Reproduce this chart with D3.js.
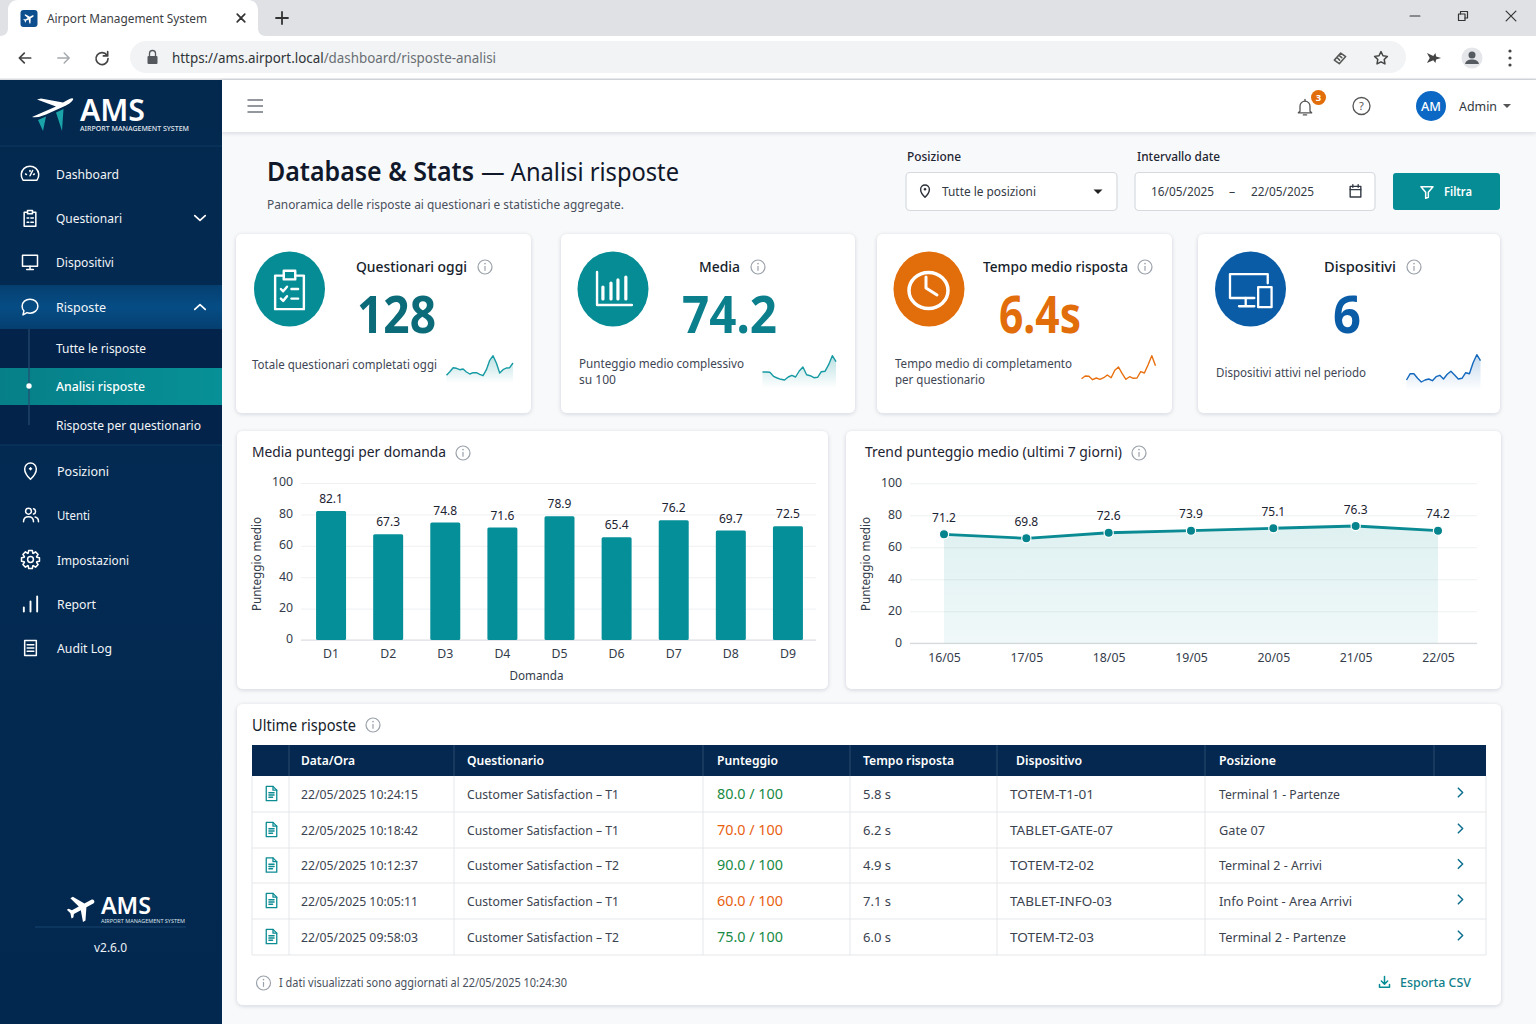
<!DOCTYPE html>
<html lang="it"><head><meta charset="utf-8"><title>Airport Management System</title>
<script src="https://cdn.jsdelivr.net/npm/d3@7/dist/d3.min.js"></script>
<style>html,body{margin:0;padding:0;background:#f8f9fb;overflow:hidden}svg{display:block}text{font-family:"Noto Sans","Open Sans",sans-serif}</style>
</head><body><svg id="c" width="1536" height="1024" viewBox="0 0 1536 1024"></svg>
<script>
// ---- data ----
const questions=["D1","D2","D3","D4","D5","D6","D7","D8","D9"];
const questionScores=[82.1,67.3,74.8,71.6,78.9,65.4,76.2,69.7,72.5];
const yTicks=[0,20,40,60,80,100];
const days=["16/05","17/05","18/05","19/05","20/05","21/05","22/05"];
// heights at which the markers sit in the picture, which differ from their printed labels
const trendPlotted=[68.1,65.6,69.1,70.4,71.9,73.3,70.4];
const trendPrinted=["71.2","69.8","72.6","73.9","75.1","76.3","74.2"];
const sparkQuestionari=[7.7,11.3,15.3,14.7,13.3,14,11,9,10.3,10.3,8.7,7.3,13.3,22.7,27.3,20,10,13.3,15,15.3,20];
const sparkMedia=[16,16,15.7,11.7,10,8.7,8,11,12.7,11,17,21,13.3,12.3,10.3,10.7,16.3,16.7,23.3,32.3,26.3];
const sparkTempo=[9.3,12,11.7,8.3,10,8.7,10.3,13,10.3,17.7,21,14.3,8.7,11.3,9.7,10,16.3,15,23.3,32.3,22.3];
const sparkDispositivi=[10,16.3,16.3,11.7,8,10,11,9.3,13.3,14.7,11,15.7,18.7,15,11,11.7,17.3,16.3,27.3,35.3,29.3];
const tableHeaders=["Data/Ora","Questionario","Punteggio","Tempo risposta","Dispositivo","Posizione"];
const rowTimes=["22/05/2025 10:24:15","22/05/2025 10:18:42","22/05/2025 10:12:37","22/05/2025 10:05:11","22/05/2025 09:58:03"];
const rowSurveys=["Customer Satisfaction – T1","Customer Satisfaction – T1","Customer Satisfaction – T2","Customer Satisfaction – T1","Customer Satisfaction – T2"];
const rowScores=[80,70,90,60,75];
const rowDurations=["5.8 s","6.2 s","4.9 s","7.1 s","6.0 s"];
const rowDevices=["TOTEM-T1-01","TABLET-GATE-07","TOTEM-T2-02","TABLET-INFO-03","TOTEM-T2-03"];
const rowPlaces=["Terminal 1 - Partenze","Gate 07","Terminal 2 - Arrivi","Info Point - Area Arrivi","Terminal 2 - Partenze"];

const TEAL="#068c95",NAVY="#03274f",ORANGE="#e26d0b",BLUE="#0b5ca6",INK="#1d2433",GREY="#3e4654";
const svg=d3.select("#c");
const defs=svg.append("defs");
function grad(id,stops,vert=true){const g=defs.append("linearGradient").attr("id",id).attr("x1",0).attr("y1",0).attr("x2",vert?0:1).attr("y2",vert?1:0);
 stops.forEach(s=>g.append("stop").attr("offset",s[0]).attr("stop-color",s[1]).attr("stop-opacity",s[2]??1));}
grad("side",[[0,"#03294f"],[.5,"#032a52"],[1,"#03284f"]]);
grad("band",[[0,"#053f70"],[.5,"#064d85"],[1,"#053f70"]]);
grad("active",[[0,"#067f88"],[1,"#079097"]],false);
grad("area",[[0,"#0a8f96",.13],[1,"#0a8f96",.06]]);
grad("sT",[[0,"#0a8f96",.28],[1,"#0a8f96",0]]);
grad("sB",[[0,"#0b62b5",.25],[1,"#0b62b5",0]]);
const sh=defs.append("filter").attr("id","sh").attr("x","-5%").attr("y","-5%").attr("width","110%").attr("height","115%");
sh.append("feDropShadow").attr("dx",0).attr("dy",1).attr("stdDeviation",2.2).attr("flood-color","#1d2b3a").attr("flood-opacity",.16);

function T(p,x,y,s,o={}){const t=p.append("text").attr("x",x).attr("y",y).text(s)
 .attr("font-size",o.size||13).attr("fill",o.fill||GREY).attr("font-weight",o.weight||400).attr("text-anchor",o.anchor||"start");
 if(o.w)t.attr("textLength",o.w).attr("lengthAdjust","spacingAndGlyphs");return t;}
function R(p,x,y,w,h,fill,o={}){const r=p.append("rect").attr("x",x).attr("y",y).attr("width",w).attr("height",h).attr("fill",fill);
 if(o.r)r.attr("rx",o.r);if(o.stroke)r.attr("stroke",o.stroke).attr("stroke-width",o.sw||1);if(o.filter)r.attr("filter",o.filter);return r;}
// stroke icon on a 24-unit box centred on (x,y)
function I(p,x,y,size,color,paths,o={}){const k=size/24;const g=p.append("g").attr("transform",`translate(${x-size/2},${y-size/2}) scale(${k})`)
 .attr("fill",o.fill||"none").attr("stroke",o.fill?"none":color).attr("stroke-width",(o.sw||1.6)/k).attr("stroke-linecap","round").attr("stroke-linejoin","round");
 [].concat(paths).forEach(d=>g.append("path").attr("d",d));return g;}
const PLANE="M21 16v-2l-8-5V3.5c0-.83-.67-1.5-1.5-1.5S10 2.67 10 3.5V9l-8 5v2l8-2.5V19l-2 1.5V22l3.5-1 3.5 1v-1.5L13 19v-5.5l8 2.5z";
const ic={
 gauge:["M4 19a10 10 0 1 1 16 0z","M12 14l3-6","M7 12l1 .6","M12 8v1","M17 12l-1 .6"],
 clip:["M9 5H5v17h14V5h-4","M9 3h6v4H9z","M8.500 12h2M13 12h3M8.500 17h2M13 17h3"],
 monitor:["M3 4h18v13H3z","M12 17v3M8 21h8"],
 chat:"M12 3c5 0 9 3.4 9 8s-4 8-9 8c-1.2 0-2.4-.2-3.4-.6L4 21l1-4.600C3.700 15 3 13.100 3 11c0-4.600 4-8 9-8z",
 pin:["M12 22s7-6.800 7-12.500a7 7 0 1 0-14 0C5 15.200 12 22 12 22z","M12 8v2.500","M10.800 9.200h2.400"],
 users:["M9 4a3.500 3.500 0 1 1 0 7 3.500 3.500 0 0 1 0-7z","M3 20c0-4 2.500-6 6-6s6 2 6 6","M15 4.500a3.300 3.300 0 0 1 0 6.400","M17 14.500c2.500.6 4 2.500 4 5.500"],
 audit:["M5 3h14v18H5z","M8 8h8M8 12h8M8 16h8"],
 bell:["M6 17V11a6 6 0 0 1 12 0v6l2 2H4z","M10 21.500h4","M12 3v2"],
 cal:["M4 5h16v16H4z","M4 10h16M8 2.500v4M16 2.500v4"],
 funnel:"M3 4h18l-7 8.500V20l-4 1.500v-9z",
 doc:["M5 2.500h9l5 5v14H5z","M14 2.500v5h5","M8.500 11h7M8.500 14h7M8.500 17h5"],
 dl:["M12 3v12M7 10.500l5 5 5-5","M4 16v4.500h16V16"],
 arrowL:"M20 12H5M11 5l-7 7 7 7",arrowR:"M4 12h15M13 5l7 7-7 7",
 reload:["M19 8a8.500 8.500 0 1 0 1.500 5","M20 3v6h-6"],
 star:"M12 3l2.800 5.800 6.200.9-4.500 4.400 1.100 6.300L12 17.400l-5.600 3 1.100-6.300L3 9.700l6.200-.9z",
 tag:["M4 15l9-10 7 5-9 10z","M8.500 12l3 3M11.500 9l3 2.500"],
 puzzle:"M2 5l9 4 3-4 1 5 7 2-7 2-1 5-3-4-9 4 4-7z",
};
function gearPath(){const n=8,pts=[];for(let i=0;i<n;i++){const a=i/n*2*Math.PI;
 pts.push([12+8*Math.cos(a-.36),12+8*Math.sin(a-.36)],[12+11*Math.cos(a-.2),12+11*Math.sin(a-.2)],[12+11*Math.cos(a+.2),12+11*Math.sin(a+.2)],[12+8*Math.cos(a+.36),12+8*Math.sin(a+.36)]);}
 return d3.line()(pts)+"Z";}
function info(p,x,y,r=7){p.append("circle").attr("cx",x).attr("cy",y).attr("r",r).attr("fill","none").attr("stroke","#9aa1aa").attr("stroke-width",1.2);
 p.append("line").attr("x1",x).attr("x2",x).attr("y1",y-1).attr("y2",y+r*.55).attr("stroke","#9aa1aa").attr("stroke-width",1.2);
 p.append("circle").attr("cx",x).attr("cy",y-r*.48).attr("r",.8).attr("fill","#9aa1aa");}

// ---- browser chrome ----
const bg=svg.append("g");
R(bg,0,0,1536,1024,"#f8f9fb");
R(bg,0,0,1536,36,"#dfe1e5");
R(bg,0,36,1536,44,"#ffffff");
bg.append("path").attr("d","M0 36C6 36 8 32 8 28V10C8 4 12 0 18 0H248C254 0 258 4 258 10V28C258 32 260 36 266 36Z").attr("fill","#fff");
R(bg,20.5,10,17,17,"#0d4f8e",{r:3});
I(bg,29,18.500,13,"#fff",PLANE,{fill:"#fff"}).select("path").attr("transform","rotate(60 12 12)");
T(bg,47,23,"Airport Management System",{size:12.6,fill:"#3c4043",w:160});
I(bg,241,18,13,"#333",["M5 5l14 14M19 5L5 19"],{sw:1.7});
I(bg,282,18,16,"#333",["M12 3v18M3 12h18"],{sw:1.8});
I(bg,1415,16,13,"#333",["M3 12h18"],{sw:1.2});
I(bg,1463,16,12,"#333",["M3 8h13v13H3z","M7 8V3h14v13h-5"],{sw:1.2});
I(bg,1511,16,13,"#333",["M3 3l18 18M21 3L3 21"],{sw:1.2});
I(bg,25,58,17,"#444",ic.arrowL,{sw:1.7});
I(bg,63.500,58,17,"#a6a9ad",ic.arrowR,{sw:1.5});
I(bg,102,58,17,"#444",ic.reload,{sw:1.7});
R(bg,130,41,1276,32,"#f1f3f4",{r:16});
R(bg,147.500,56,10,8,"#55595e",{r:1});
bg.append("path").attr("d","M149.500 56v-2.500a3 3 0 0 1 6 0V56").attr("fill","none").attr("stroke","#55595e").attr("stroke-width",1.3);
const url=T(bg,172,63,"",{size:14,w:324});
url.append("tspan").attr("fill","#2f3338").text("https://ams.airport.local");
url.append("tspan").attr("fill","#6a6f75").text("/dashboard/risposte-analisi");
I(bg,1340,58,17,"#555",ic.tag,{sw:1.5});
I(bg,1381,58,17,"#444",ic.star,{sw:1.5});
I(bg,1434,58,17,"#444",ic.puzzle,{fill:"#444"});
bg.append("circle").attr("cx",1472).attr("cy",58).attr("r",10.500).attr("fill","#e4e6e9");
bg.append("circle").attr("cx",1472).attr("cy",55).attr("r",3.500).attr("fill","#555a60");
bg.append("path").attr("d","M1465 64c1-3.500 3.500-4.500 7-4.500s6 1 7 4.500z").attr("fill","#555a60");
[51,58,65].forEach(y=>bg.append("circle").attr("cx",1510).attr("cy",y).attr("r",1.6).attr("fill","#444"));
R(bg,0,78.500,1536,1.500,"#d9dbde");

// ---- sidebar ----
const side=svg.append("g");
R(side,0,80,222,944,"url(#side)");
side.append("line").attr("x1",0).attr("x2",222).attr("y1",146).attr("y2",146).attr("stroke","#0e3a63");
const logo=side.append("g");
logo.append("path").attr("d","M38 120L46 116.500L43 131ZM56 112.500L63.500 109L62 131Z").attr("fill","#1aa3a8");
logo.append("path").attr("d","M32 117L56 106.500L37 99.500L41 98.500L63 102.500L69.500 99C72 97.500 74.500 98 72.500 100.500C71 102.500 68 104.500 66 105.500L46 114.500Q38 118 32 117Z").attr("fill","#fff");
T(logo,80,121,"AMS",{size:31,weight:600,fill:"#fff",w:65});
T(logo,80,131,"AIRPORT MANAGEMENT SYSTEM",{size:7,weight:500,fill:"#e2e8ee",w:109});
R(side,0,285,222,44,"url(#band)");
R(side,0,329,222,116,"#03234a");
R(side,0,368,222,37,"url(#active)");
side.append("line").attr("x1",29).attr("x2",29).attr("y1",329).attr("y2",425).attr("stroke","#274b71").attr("stroke-width",1.2);
side.append("circle").attr("cx",29).attr("cy",386).attr("r",2.700).attr("fill","#fff");
side.append("line").attr("x1",0).attr("x2",222).attr("y1",445).attr("y2",445).attr("stroke","#0e3a63");
const W={fill:"#f2f5f8",size:12.6};
[["Dashboard",56,174,63],["Questionari",56,218,66],["Dispositivi",56,262,58],["Risposte",56,307,50],["Tutte le risposte",56,348,90],["Risposte per questionario",56,425,145],["Posizioni",57,471,52],["Utenti",57,515,33],["Impostazioni",57,560,72],["Report",57,604,39],["Audit Log",57,648,55]]
 .forEach(d=>T(side,d[1],d[2]+4.500,d[0],{...W,w:d[3]}));
T(side,56,390.500,"Analisi risposte",{size:12.6,fill:"#fff",weight:500,w:89});
const wi={sw:1.5};
I(side,30,174,21,"#fff",ic.gauge,wi);I(side,30,218,20,"#fff",ic.clip,wi);I(side,30,262,20,"#fff",ic.monitor,wi);
I(side,30,307,21,"#fff",ic.chat,wi);I(side,30.500,471,20,"#fff",ic.pin,wi);I(side,31,515,20,"#fff",ic.users,wi);
const gg=I(side,30.500,559.500,20,"#fff",gearPath(),wi);gg.append("circle").attr("cx",12).attr("cy",12).attr("r",3.500);
I(side,30.500,604,20,"#fff",["M4 21v-5M12 21V9M20 21V3"],{sw:1.9});I(side,30.500,648,20,"#fff",ic.audit,wi);
I(side,200,218,14,"#fff",["M3 8l9 8 9-8"],{sw:1.7});I(side,200,307,14,"#fff",["M3 16l9-8 9 8"],{sw:1.7});
I(side,82,908,34,"#fff",PLANE,{fill:"#fff"}).select("path").attr("transform","rotate(62 12 12)");
T(side,101,914,"AMS",{size:24,weight:600,fill:"#fff",w:50});
T(side,101,922.500,"AIRPORT MANAGEMENT SYSTEM",{size:5.400,fill:"#d8e0e8",w:84});
side.append("line").attr("x1",35).attr("x2",186).attr("y1",927).attr("y2",927).attr("stroke","#17456f");
T(side,110.500,952,"v2.6.0",{size:12.400,fill:"#eef2f6",anchor:"middle",w:33});

// ---- header ----
const head=svg.append("g");
R(head,222,80,1314,52,"#fff",{filter:"url(#sh)"});
[100,106,112].forEach(y=>head.append("line").attr("x1",247.500).attr("x2",263).attr("y1",y).attr("y2",y).attr("stroke","#666c74").attr("stroke-width",1.400));
I(head,1305,107,20,"#555",ic.bell,{sw:1.3});
head.append("circle").attr("cx",1318.500).attr("cy",97.500).attr("r",7.500).attr("fill",ORANGE);
T(head,1318.500,100.800,"3",{size:9.500,weight:700,fill:"#fff",anchor:"middle"});
head.append("circle").attr("cx",1361.500).attr("cy",106).attr("r",8.500).attr("fill","none").attr("stroke","#555").attr("stroke-width",1.300);
T(head,1361.500,110,"?",{size:11,fill:"#555",anchor:"middle"});
head.append("circle").attr("cx",1431).attr("cy",106).attr("r",15).attr("fill","#0b68c4");
T(head,1431,110.500,"AM",{size:13,weight:500,fill:"#fff",anchor:"middle",w:20});
T(head,1459,110.500,"Admin",{size:13,fill:"#2f3640",w:38});
head.append("path").attr("d","M1503 104h8l-4 4z").attr("fill","#555");

// ---- title & filters ----
const filters=svg.append("g");
T(filters,267,180.500,"Database & Stats",{size:27,weight:600,fill:"#10182a",w:207});
T(filters,481,180.500,"— Analisi risposte",{size:26,fill:"#10182a",w:198});
T(filters,267,209,"Panoramica delle risposte ai questionari e statistiche aggregate.",{size:12.300,fill:"#49505c",w:357});
T(filters,907,161,"Posizione",{size:12.400,fill:"#1f2633",weight:500,w:54});
T(filters,1137,161,"Intervallo date",{size:12.400,fill:"#1f2633",weight:500,w:83});
const box={r:4,stroke:"#d6dade",sw:1.200};
R(filters,906,172.500,211,38,"#fff",box);R(filters,1135,172.500,240,38,"#fff",box);
I(filters,925,191,15,"#2a2f38",ic.pin,{sw:1.400});
T(filters,942,195.500,"Tutte le posizioni",{size:12.300,fill:"#333a45",w:94});
filters.append("path").attr("d","M1093.500 189.500h9l-4.500 4.500z").attr("fill","#222");
T(filters,1151,195.500,"16/05/2025",{size:12.300,fill:"#333a45",w:63});
T(filters,1229,195.500,"–",{size:12.300,fill:"#333a45"});
T(filters,1251,195.500,"22/05/2025",{size:12.300,fill:"#333a45",w:63});
I(filters,1355.500,191,16,"#333a45",ic.cal,{sw:1.400});
R(filters,1393,173,107,37,TEAL,{r:3});
I(filters,1427,192,16,"#fff",ic.funnel,{sw:1.500});
T(filters,1444,196,"Filtra",{size:12.500,weight:600,fill:"#fff",w:28});

// ---- KPI cards ----
const spark=d3.scaleLinear().domain([0,30]);
function kpi(c){const g=svg.append("g");
 R(g,c.x,234,c.w,179,"#fff",{r:6,filter:"url(#sh)"});
 g.append("ellipse").attr("cx",c.cx).attr("cy",289).attr("rx",35.500).attr("ry",37.500).attr("fill",c.color);
 T(g,c.tx,272,c.title,{size:14,fill:"#161d2b",weight:500,w:c.tw});
 info(g,c.ix,267);
 T(g,c.vx,333,c.value,{size:52,weight:700,fill:c.vfill,w:c.vw});
 c.sub.forEach((s,i)=>T(g,c.sx,c.sy+i*16,s,{size:12.300,fill:"#3e4654",w:c.sw[i]}));
 const xs=d3.scaleLinear().domain([0,c.s.length-1]).range([c.s0,c.s1]);
 const ys=spark.copy().range([c.base,c.base-30]);
 if(c.area)g.append("path").datum(c.s).attr("d",d3.area().x((d,i)=>xs(i)).y0(c.base).y1(d=>ys(d))).attr("fill",c.area);
 g.append("path").datum(c.s).attr("d",d3.line().x((d,i)=>xs(i)).y(d=>ys(d))).attr("fill","none").attr("stroke",c.line).attr("stroke-width",1.400).attr("stroke-linejoin","round");
 return g;}
const k1=kpi({x:236,w:295,cx:289.500,color:TEAL,tx:356,tw:111,title:"Questionari oggi",ix:485,vx:357,vw:79,value:"128",vfill:"#0c6b78",sx:252,sy:369,sub:["Totale questionari completati oggi"],sw:[185],s:sparkQuestionari,s0:446.500,s1:513,base:383,area:"url(#sT)",line:"#169aa3"});
const k2=kpi({x:561,w:294,cx:613,color:TEAL,tx:699,tw:41,title:"Media",ix:758,vx:682,vw:95,value:"74.2",vfill:"#0b7f8c",sx:579,sy:368,sub:["Punteggio medio complessivo","su 100"],sw:[165,37],s:sparkMedia,s0:762.500,s1:836,base:388,area:"url(#sT)",line:"#169aa3"});
const k3=kpi({x:877,w:295,cx:929,color:ORANGE,tx:983,tw:145,title:"Tempo medio risposta",ix:1145,vx:999,vw:82,value:"6.4s",vfill:ORANGE,sx:895,sy:368,sub:["Tempo medio di completamento","per questionario"],sw:[177,90],s:sparkTempo,s0:1081.500,s1:1155.500,base:388,area:null,line:"#e8700f"});
const k4=kpi({x:1198,w:302,cx:1250.500,color:BLUE,tx:1324,tw:72,title:"Dispositivi",ix:1414,vx:1333,vw:28,value:"6",vfill:BLUE,sx:1216,sy:377,sub:["Dispositivi attivi nel periodo"],sw:[150],s:sparkDispositivi,s0:1406.500,s1:1480.500,base:390,area:"url(#sB)",line:"#1368be"});
I(k1,289.500,289,46,"#fff",["M9 5H4.500v17.500h15V5H15","M9 2.500h6v4.500H9z","M7.500 12l1.200 1.200 2-2.400M13 12h3.500","M7.500 17l1.200 1.200 2-2.400M13 17h3.500"],{sw:2.400});
I(k2,613,288,44,"#fff",["M3.300 3.300v18h19"],{sw:2.400});
I(k2,613,288,44,"#fff",["M6.500 18v-6.500M10.900 18V9.300M14.700 18V7.600M19 18V6"],{sw:3.200});
k3.append("ellipse").attr("cx",928.500).attr("cy",290.500).attr("rx",19.500).attr("ry",18).attr("fill","none").attr("stroke","#fff").attr("stroke-width",3.500);
k3.append("path").attr("d","M926 277V288L937 295").attr("fill","none").attr("stroke","#fff").attr("stroke-width",3).attr("stroke-linecap","round").attr("stroke-linejoin","round");
I(k4,1250.500,289,46,"#fff",["M21 9V4.200H1.300V16.700H14","M6 21h8M9.500 16.700V21","M16 11h7v10.500h-7z"],{sw:2.300});

// ---- chart cards ----
const cards=svg.append("g");
R(cards,237,431,591,258,"#fff",{r:6,filter:"url(#sh)"});
R(cards,846,431,655,258,"#fff",{r:6,filter:"url(#sh)"});
T(cards,252,457,"Media punteggi per domanda",{size:14.500,fill:"#1c2331",w:194});info(cards,463,453);
T(cards,865,457,"Trend punteggio medio (ultimi 7 giorni)",{size:14.500,fill:"#1c2331",w:257});info(cards,1139,453);

function styleAxis(a,dy=0){a.selectAll("text").attr("font-size",12.300).attr("fill","#343c4a").attr("transform",`translate(0,${dy})`);a.selectAll(".domain").remove();a.selectAll(".tick line").attr("stroke","#eef0f2");}
// bars
const bars=svg.append("g");
const bx=d3.scaleBand().domain(questions).range([302.500,816.500]).paddingInner(.475).paddingOuter(.2375);
const by=d3.scaleLinear().domain([0,100]).range([640,483]);
styleAxis(bars.append("g").attr("transform","translate(301,0)").call(d3.axisLeft(by).tickValues(yTicks).tickSize(-515).tickPadding(8)),-1);
bars.append("line").attr("x1",301).attr("x2",816).attr("y1",640).attr("y2",640).attr("stroke","#d9dce0");
bars.selectAll("rect.b").data(questionScores).join("rect").attr("class","b").attr("x",(d,i)=>bx(questions[i])).attr("width",bx.bandwidth()).attr("y",d=>by(d)).attr("height",d=>640-by(d)).attr("rx",1.500).attr("fill","#058f98");
bars.selectAll("text.v").data(questionScores).join("text").attr("class","v").attr("x",(d,i)=>bx(questions[i])+bx.bandwidth()/2).attr("y",d=>by(d)-8).attr("text-anchor","middle").attr("font-size",12).attr("fill","#1c2331").text(d=>d.toFixed(1));
styleAxis(bars.append("g").attr("transform","translate(0,640)").call(d3.axisBottom(bx).tickSize(0).tickPadding(9)));
T(bars,536.500,680,"Domanda",{size:12.300,fill:"#343c4a",anchor:"middle",w:54});
T(bars,0,0,"Punteggio medio",{size:12.300,fill:"#343c4a",anchor:"middle",w:94}).attr("transform","translate(261,564) rotate(-90)");
// trend
const trend=svg.append("g");
const lx=d3.scalePoint().domain(days).range([944,1438]);
const ly=d3.scaleLinear().domain([0,100]).range([643.300,483.300]);
styleAxis(trend.append("g").attr("transform","translate(910,0)").call(d3.axisLeft(ly).tickValues(yTicks).tickSize(-567).tickPadding(8)),-1);
trend.append("line").attr("x1",910).attr("x2",1477).attr("y1",643.300).attr("y2",643.300).attr("stroke","#cfd3d8");
trend.append("path").datum(trendPlotted).attr("d",d3.area().x((d,i)=>lx(days[i])).y0(643.300).y1(d=>ly(d))).attr("fill","url(#area)");
trend.append("path").datum(trendPlotted).attr("d",d3.line().x((d,i)=>lx(days[i])).y(d=>ly(d))).attr("fill","none").attr("stroke","#0a8a92").attr("stroke-width",2.800);
trend.selectAll("circle").data(trendPlotted).join("circle").attr("cx",(d,i)=>lx(days[i])).attr("cy",d=>ly(d)).attr("r",4.600).attr("fill","#06848d").attr("stroke","#fff").attr("stroke-width",1.200);
trend.selectAll("text.v").data(trendPrinted).join("text").attr("class","v").attr("x",(d,i)=>lx(days[i])).attr("y",(d,i)=>ly(trendPlotted[i])-12.500).attr("text-anchor","middle").attr("font-size",12).attr("fill","#1c2331").text(d=>d);
styleAxis(trend.append("g").attr("transform","translate(0,643.300)").call(d3.axisBottom(lx).tickSize(0).tickPadding(10)));
T(trend,0,0,"Punteggio medio",{size:12.300,fill:"#343c4a",anchor:"middle",w:94}).attr("transform","translate(870,564) rotate(-90)");

// ---- table ----
const tb=svg.append("g");
R(tb,237,704,1264,301,"#fff",{r:6,filter:"url(#sh)"});
T(tb,252,731,"Ultime risposte",{size:16,fill:"#161d2b",w:104});info(tb,373,725);
R(tb,252,745,1234,31,"#04284f");
const colX=[252,289,454,703,850,997,1205,1434,1486];
const rowY=[776,812,848,883,919,955];
const headX=[301,467,717,863,1016,1219],headW=[54,77,61,91,66,57];
const deviceW=[84,103,84,102,84],placeW=[121,46,103,133,127];
tableHeaders.forEach((h,i)=>T(tb,headX[i],765,h,{size:12.500,weight:600,fill:"#fff",w:headW[i]}));
colX.slice(1,-1).forEach(x=>tb.append("line").attr("x1",x).attr("x2",x).attr("y1",745).attr("y2",776).attr("stroke","#2a4a6e"));
colX.forEach(x=>tb.append("line").attr("x1",x).attr("x2",x).attr("y1",776).attr("y2",955).attr("stroke",(x===1434?"none":"#e4e7ea")));
rowY.slice(1).forEach(y=>tb.append("line").attr("x1",252).attr("x2",1486).attr("y1",y).attr("y2",y).attr("stroke","#e4e7ea"));
const goodScore=v=>v!==70&&v!==60;
rowTimes.forEach((_,i)=>{const c=(rowY[i]+rowY[i+1])/2,b=c+4.500;
 I(tb,271.500,c-.5,18,"#0d8c94",ic.doc,{sw:1.300});
 T(tb,301,b,rowTimes[i],{size:12.300,fill:"#3b4350",w:117});
 T(tb,467,b,rowSurveys[i],{size:12.300,fill:"#3b4350",w:152});
 T(tb,717,b,rowScores[i].toFixed(1)+" / 100",{size:13.500,fill:goodScore(rowScores[i])?"#188a45":"#e8610f",w:66});
 T(tb,863,b,rowDurations[i],{size:12.300,fill:"#3b4350",w:28});
 T(tb,1010,b,rowDevices[i],{size:12.300,fill:"#3b4350",w:deviceW[i]});
 T(tb,1219,b,rowPlaces[i],{size:12.300,fill:"#3b4350",w:placeW[i]});
 I(tb,1460.500,c-1.500,13,"#0d6f90",["M8 4l8 8-8 8"],{sw:1.500});
});
info(tb,263.500,983);
T(tb,279,987,"I dati visualizzati sono aggiornati al 22/05/2025 10:24:30",{size:11.800,fill:"#49505c",w:288});
I(tb,1384.500,982,15,TEAL,ic.dl,{sw:1.500});
T(tb,1400,987,"Esporta CSV",{size:12.500,fill:"#0f7f8a",weight:500,w:71});
</script></body></html>
